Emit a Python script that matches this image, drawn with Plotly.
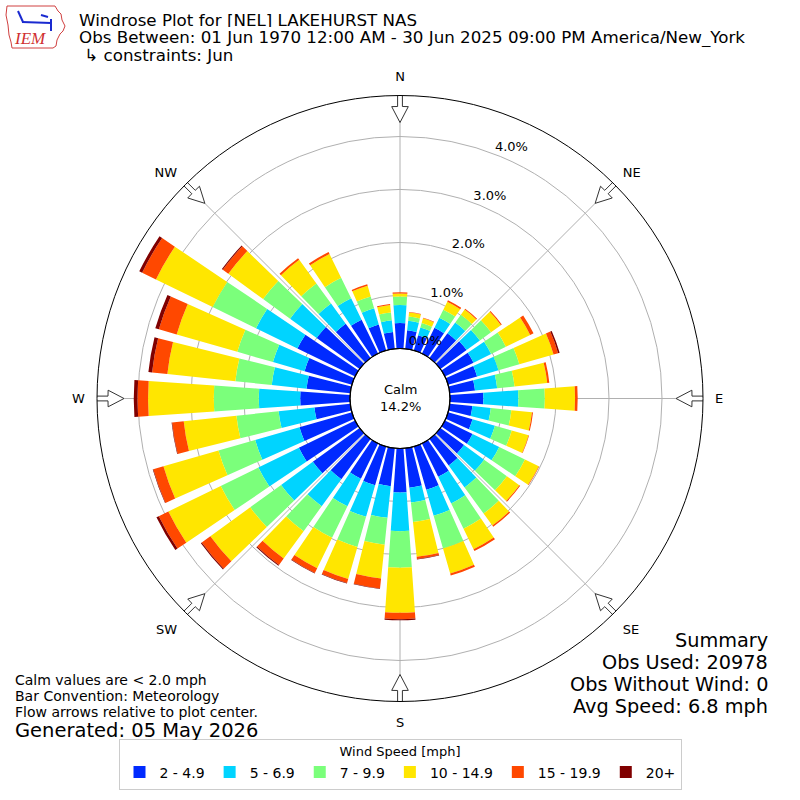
import math
import plotly.graph_objects as go

# wind directions (deg, meteorological) and speed bins
directions = list(range(0, 360, 10))
speed_bins = ["2 - 4.9", "5 - 6.9", "7 - 9.9", "10 - 14.9", "15 - 19.9", "20+"]
colors = ["#002aff", "#00d4ff", "#7bff7b", "#ffe600", "#ff4800", "#800000"]

# frequency (%) per direction, one list per speed bin
spd_2_5 = [0.48, 0.35, 0.30, 0.54, 0.58, 0.61, 0.60, 0.57, 0.48, 0.63,
           0.43, 0.48, 0.58, 0.55, 0.62, 0.70, 0.85, 0.75, 0.83, 0.72,
           0.76, 0.74, 0.94, 1.09, 1.18, 1.03, 0.68, 0.94, 0.83, 0.93,
           1.21, 1.00, 0.80, 0.71, 0.51, 0.32]
spd_5_7 = [0.34, 0.18, 0.15, 0.21, 0.25, 0.31, 0.37, 0.42, 0.42, 0.66,
           0.35, 0.44, 0.56, 0.47, 0.51, 0.56, 0.51, 0.28, 0.73, 0.60,
           0.62, 0.58, 0.63, 0.74, 0.85, 0.87, 0.68, 0.78, 0.66, 0.62,
           0.87, 0.62, 0.47, 0.45, 0.32, 0.22]
spd_7_10 = [0.16, 0.08, 0.09, 0.17, 0.18, 0.26, 0.31, 0.41, 0.33, 0.50,
            0.39, 0.33, 0.54, 0.53, 0.61, 0.53, 0.64, 0.37, 0.69, 0.51,
            0.59, 0.66, 0.58, 0.72, 0.79, 0.72, 0.80, 0.85, 0.69, 0.70,
            0.91, 0.63, 0.47, 0.43, 0.23, 0.15]
spd_10_15 = [0.06, 0.08, 0.09, 0.17, 0.12, 0.23, 0.51, 0.67, 0.62, 0.57,
             0.39, 0.33, 0.29, 0.29, 0.28, 0.43, 0.49, 0.66, 0.85, 0.64,
             0.63, 0.64, 0.64, 0.93, 1.10, 1.08, 1.00, 1.24, 1.29, 1.19,
             1.19, 0.81, 0.55, 0.50, 0.21, 0.14]
spd_15_20 = [0.02, 0.01, 0.01, 0.03, 0.02, 0.02, 0.07, 0.09, 0.04, 0.05,
             0.02, 0.01, 0.01, 0.02, 0.03, 0.04, 0.04, 0.04, 0.12, 0.19,
             0.08, 0.10, 0.15, 0.20, 0.20, 0.20, 0.22, 0.20, 0.29, 0.35,
             0.29, 0.13, 0.04, 0.04, 0.03, 0.02]
spd_20p = [0, 0, 0, 0, 0, 0, 0, 0.03, 0, 0,
           0, 0, 0, 0, 0, 0, 0, 0.01, 0.02, 0.01,
           0.01, 0.01, 0.02, 0.02, 0.05, 0.01, 0.01, 0.07, 0.07, 0.07,
           0.06, 0.02, 0, 0, 0, 0]
series = [spd_2_5, spd_5_7, spd_7_10, spd_10_15, spd_15_20, spd_20p]

calm_pct = 14.2
rtick_vals = [0, 1, 2, 3, 4]
compass = ["N", "NE", "E", "SE", "S", "SW", "W", "NW"]

W = H = 800
CX, CY = 400, 398.5          # plot centre in pixels
R_OUT, R_HOLE = 303, 50      # outer radius / calm hole radius
PX_PER_PCT = 53.0
r_max = (R_OUT - R_HOLE) / PX_PER_PCT
FONT = "DejaVu Sans"


def px(x, y):
    return x / W, 1 - y / H


fig = go.Figure()
for name, vals, col in zip(speed_bins, series, colors):
    fig.add_trace(go.Barpolar(r=vals, theta=directions, width=8, name=name,
                              marker_color=col, marker_line_width=0))

# hollow flow arrows on the compass points
arrow = [(305, -2.4), (292, -2.4), (292, -8.3), (276, 0), (292, 8.3),
         (292, 2.4), (305, 2.4), (305, -2.4)]
for k in range(8):
    d = k * 45
    fig.add_trace(go.Scatterpolar(
        r=[(R - R_HOLE) / PX_PER_PCT for R, o in arrow],
        theta=[d + math.degrees(math.atan2(o, R)) for R, o in arrow],
        mode="lines", fill="toself", fillcolor="white",
        line=dict(color="#333333", width=1), cliponaxis=False,
        showlegend=False, hoverinfo="skip"))

# radial tick labels, matplotlib style (just outside each ring at 24 deg)
fig.add_trace(go.Scatterpolar(
    r=[v + 12 / PX_PER_PCT for v in rtick_vals], theta=[24] * len(rtick_vals),
    mode="text", text=[f"{v:.1f}%" for v in rtick_vals],
    textfont=dict(size=13, color="black", family=FONT), cliponaxis=False,
    showlegend=False, hoverinfo="skip"))

x0, y1 = px(CX - R_OUT, CY - R_OUT)
x1, y0 = px(CX + R_OUT, CY + R_OUT)

fig.update_layout(
    width=W, height=H, margin=dict(l=0, r=0, t=0, b=0),
    paper_bgcolor="white", font=dict(family=FONT, color="black", size=13),
    polar=dict(
        domain=dict(x=[x0, x1], y=[y0, y1]),
        hole=R_HOLE / R_OUT, bgcolor="white", barmode="stack",
        angularaxis=dict(rotation=90, direction="clockwise",
                         tickvals=[k * 45 for k in range(8)], ticktext=compass,
                         showline=True, linecolor="black", linewidth=1,
                         gridcolor="#b0b0b0", gridwidth=1,
                         ticks="outside", ticklen=9, tickcolor="rgba(0,0,0,0)",
                         tickfont=dict(size=13)),
        radialaxis=dict(range=[0, r_max], tickvals=rtick_vals,
                        showticklabels=False, showline=False, ticks="",
                        gridcolor="#b0b0b0", gridwidth=1),
    ),
    legend=dict(orientation="h", x=0.5, xanchor="center", y=0.013, yanchor="bottom",
                bordercolor="#cccccc", borderwidth=1, bgcolor="white",
                font=dict(size=14),
                title=dict(text="Wind Speed [mph]", side="top center",
                           font=dict(size=13))),
)

# calm circle
hx0, hy1 = px(CX - R_HOLE, CY - R_HOLE)
hx1, hy0 = px(CX + R_HOLE, CY + R_HOLE)
fig.add_shape(type="circle", xref="paper", yref="paper", x0=hx0, x1=hx1,
              y0=hy0, y1=hy1, line=dict(color="black", width=1.2))

ann = []


def text(x, y, s, size, anchor="left", box=None, color="black", fam=FONT):
    xx, yy = px(x, y)
    ann.append(dict(x=xx, y=yy, xref="paper", yref="paper", text=s, showarrow=False,
                    xanchor=anchor, yanchor="middle", height=box, borderpad=0,
                    font=dict(size=size, color=color, family=fam)))


cx_, cy_ = px(CX, CY)
ann.append(dict(x=cx_, y=cy_, xref="paper", yref="paper", showarrow=False,
                text=f"Calm<br>{calm_pct:.1f}%", font=dict(size=13), align="center"))

text(78, 19, "Windrose Plot for [NEL] LAKEHURST NAS", 16.7, box=15)
text(78, 37.2, "Obs Between: 01 Jun 1970 12:00 AM - 30 Jun 2025 09:00 PM America/New_York", 16.7, box=19)
text(78, 55.5, " \u21b3 constraints: Jun", 16.7)

text(14, 680, "Calm values are &lt; 2.0 mph", 14, box=16)
text(14, 696, "Bar Convention: Meteorology", 14, box=16)
text(14, 712, "Flow arrows relative to plot center.", 14, box=16)
text(14, 730, "Generated: 05 May 2026", 19.5, box=20)

text(769, 640, "Summary", 19.3, "right", box=22)
text(769, 662, "Obs Used: 20978", 19.3, "right", box=22)
text(769, 684, "Obs Without Wind: 0", 19.3, "right", box=22)
text(769, 706, "Avg Speed: 6.8 mph", 19.3, "right", box=22)

# IEM logo (rough)
outline = [(7, 6), (55, 6), (58, 11), (61, 14), (62, 20), (65, 26), (63, 31),
           (60, 34), (57, 40), (56, 46), (53, 48), (12, 48), (11, 42),
           (9, 35), (8, 25), (6, 15)]
path = "M " + " L ".join(f"{px(a, b)[0]:.5f},{px(a, b)[1]:.5f}" for a, b in outline) + " Z"
fig.add_shape(type="path", xref="paper", yref="paper", path=path,
              line=dict(color="#d04040", width=1))
for (a, b, c, d) in [(18, 11, 23, 22), (22, 22, 51, 23), (51, 19, 51, 31), (41, 15, 48, 17)]:
    (ax, ay), (bx, by) = px(a, b), px(c, d)
    fig.add_shape(type="line", xref="paper", yref="paper", x0=ax, y0=ay, x1=bx, y1=by,
                  line=dict(color="#1a2ad0", width=2))
text(30, 39, "<i>IEM</i>", 17, "center", None, "#d03030", "Liberation Serif")

fig.update_layout(annotations=ann)
fig.write_html("out.html", config={"displayModeBar": False},
               post_script="document.body.style.margin='0';")
